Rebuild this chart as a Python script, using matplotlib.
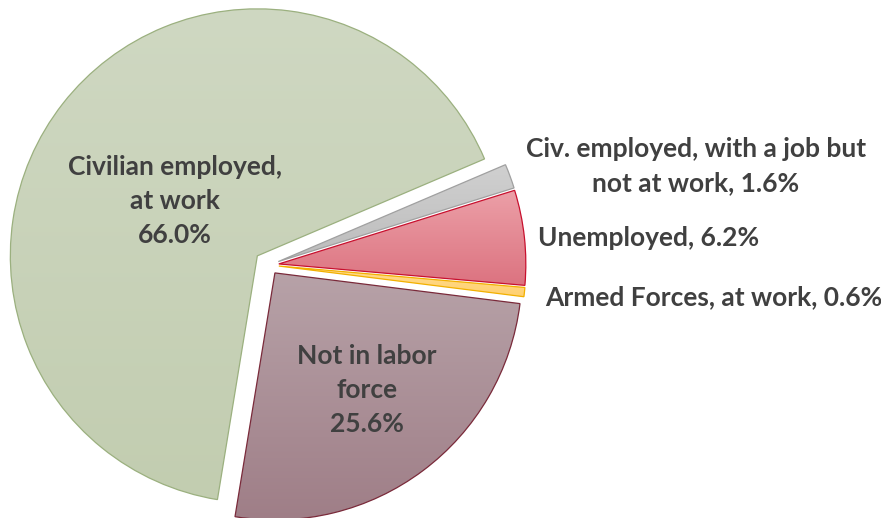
import numpy as np
import matplotlib
matplotlib.use("Agg")
import matplotlib.pyplot as plt
from matplotlib.colors import LinearSegmentedColormap

# data, counter-clockwise from the start angle
labels = ["Civilian employed,\nat work\n66.0%",
          "Not in labor\nforce\n25.6%",
          "Armed Forces, at work, 0.6%",
          "Unemployed, 6.2%",
          "Civ. employed, with a job but\nnot at work, 1.6%"]
shares = [66.0, 25.6, 0.6, 6.2, 1.6]
explode = [0.06, 0.04, 0.04, 0.04, 0.04]

# gradient top / bottom colours and edge colours
top_colors = ["#cfd8c2", "#b7a2a8", "#ffdc90", "#eca0a8", "#d0d0d0"]
bottom_colors = ["#c2cdb0", "#9f7e87", "#ffd070", "#dc7380", "#bcbcbc"]
edge_colors = ["#9bb07f", "#7a2a3a", "#f2b000", "#c8102e", "#a0a0a0"]

# label anchor in pixel coords (x, y from top) and alignment
label_px = [(175, 201), (367, 390), (545, 297), (538, 238), (696, 166)]
label_ha = ["center", "center", "left", "left", "center"]

W, H = 881, 518
R_PX = 247
CX, CY = 269, 265

fig = plt.figure(figsize=(W / 100, H / 100), dpi=100)
ax = fig.add_axes([0, 0, 1, 1])
ax.set_xlim(-CX / R_PX, (W - CX) / R_PX)
ax.set_ylim(-(H - CY) / R_PX, CY / R_PX)
ax.set_aspect("equal")
ax.axis("off")

wedges, _ = ax.pie(shares, explode=explode, startangle=23.1, counterclock=True,
                   radius=1.0, colors=bottom_colors,
                   wedgeprops=dict(linewidth=0.9))

for w, top, bot, ec in zip(wedges, top_colors, bottom_colors, edge_colors):
    w.set_edgecolor(ec)
    w.set_zorder(3)
    w.set_facecolor("none")
    # vertical gradient clipped to the wedge
    bb = w.get_window_extent(fig.canvas.get_renderer())
    inv = ax.transData.inverted()
    (dx0, dy0), (dx1, dy1) = inv.transform([[bb.x0, bb.y0], [bb.x1, bb.y1]])
    cmap = LinearSegmentedColormap.from_list("g", [bot, top])
    grad = np.linspace(0, 1, 256).reshape(-1, 1)
    im = ax.imshow(grad, cmap=cmap, extent=[dx0, dx1, dy0, dy1],
                   origin="lower", aspect="auto", zorder=2,
                   interpolation="bilinear")
    im.set_clip_path(w)

ax.set_xlim(-CX / R_PX, (W - CX) / R_PX)
ax.set_ylim(-(H - CY) / R_PX, CY / R_PX)

for txt, (px, py), ha in zip(labels, label_px, label_ha):
    ax.text(px / W, 1 - py / H, txt, transform=fig.transFigure,
            ha=ha, va="center", multialignment="center",
            fontsize=19, fontweight="bold", family="Lato",
            color="#404040", linespacing=1.48, zorder=5)

fig.savefig("out.png", dpi=100)
